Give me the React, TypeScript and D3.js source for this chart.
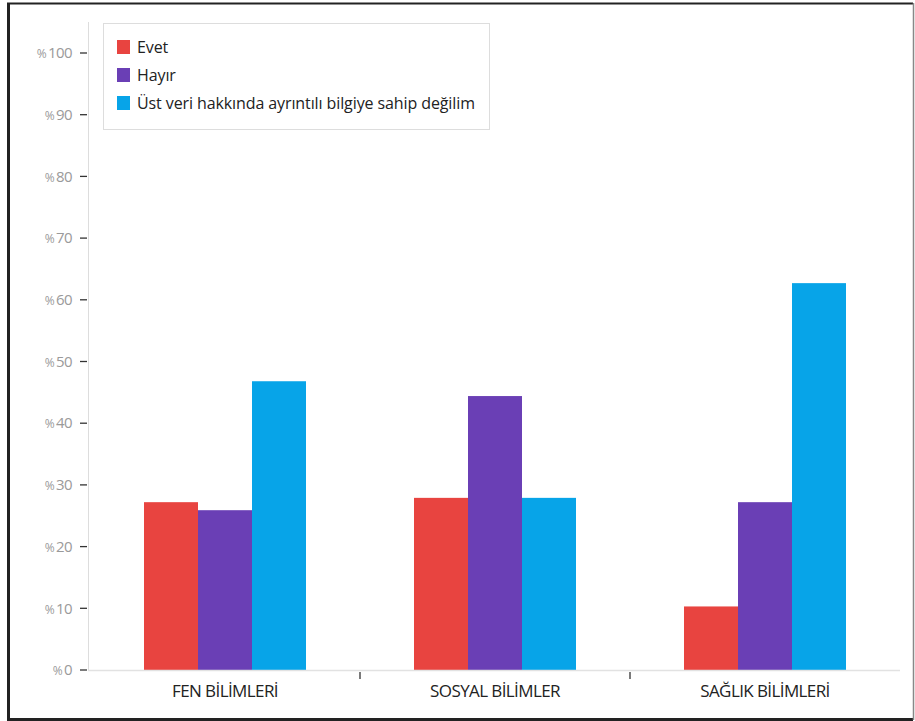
import React from "react";
import * as d3 from "d3";

const categories = ["FEN BİLİMLERİ", "SOSYAL BİLİMLER", "SAĞLIK BİLİMLERİ"];
const seriesNames = ["Evet", "Hayır", "Üst veri hakkında ayrıntılı bilgiye sahip değilim"];
const seriesColors = ["#E84440", "#6A3FB5", "#07A4E8"];
const evet = [27.2, 27.9, 10.3];
const hayir = [25.9, 44.4, 27.2];
const ustVeri = [46.8, 27.9, 62.7];
const yTicks = [0, 10, 20, 30, 40, 50, 60, 70, 80, 90, 100];

const W = 915;
const H = 721;

export default function App() {
  const seriesValues = [evet, hayir, ustVeri];
  const x0 = d3.scaleBand<string>().domain(categories).range([90, 900]).paddingInner(0).paddingOuter(0);
  const groupPad = 0.2;
  const x1 = d3
    .scaleBand<number>()
    .domain([0, 1, 2])
    .range([x0.bandwidth() * groupPad, x0.bandwidth() * (1 - groupPad)])
    .padding(0);
  const y = d3.scaleLinear().domain([0, 100]).range([670, 53]);

  return (
    <svg width={W} height={H} style={{ position: "absolute", left: 0, top: 0, background: "#fff" }}>
      {/* outer frame */}
      <line x1={8.5} y1={3} x2={8.5} y2={720} stroke="#222" strokeWidth={3} />
      <line x1={7} y1={3.5} x2={913} y2={3.5} stroke="#222" strokeWidth={2} />
      <line x1={7} y1={719.5} x2={913} y2={719.5} stroke="#222" strokeWidth={3} />
      <line x1={913.5} y1={3} x2={913.5} y2={720} stroke="#888" strokeWidth={1.5} />

      {/* y axis line */}
      <line x1={88.5} y1={22} x2={88.5} y2={670} stroke="#ddd" strokeWidth={1} />

      {/* y ticks */}
      {yTicks.map((t) => (
        <g key={t}>
          <line x1={80} x2={87} y1={y(t)} y2={y(t)} stroke="#333" strokeWidth={1.3} />
          <text
            x={72}
            y={y(t)}
            dy="0.35em"
            textAnchor="end"
            fill="#9a9a9a"
            fontSize={15}
            fontFamily="'Open Sans', sans-serif"
            letterSpacing={-0.6}
          >
            <tspan fontSize={12}>%</tspan>
            <tspan dx={2}>{t}</tspan>
          </text>
        </g>
      ))}

      {/* bars */}
      {categories.map((c, ci) => (
        <g key={c} transform={`translate(${x0(c)},0)`}>
          {seriesValues.map((vals, si) => (
            <rect
              key={si}
              x={x1(si)}
              y={y(vals[ci])}
              width={x1.bandwidth()}
              height={y(0) - y(vals[ci])}
              fill={seriesColors[si]}
            />
          ))}
        </g>
      ))}

      {/* x axis line */}
      <line x1={88} x2={900} y1={670.5} y2={670.5} stroke="#e2e2e2" strokeWidth={1.5} />

      {/* category separators */}
      {categories.slice(1).map((c) => (
        <line key={c} x1={x0(c)} x2={x0(c)} y1={672} y2={679} stroke="#333" strokeWidth={1.3} />
      ))}

      {/* category labels */}
      {categories.map((c) => (
        <text
          key={c}
          x={(x0(c) ?? 0) + x0.bandwidth() / 2}
          y={697}
          textAnchor="middle"
          fill="#222"
          fontSize={17}
          fontFamily="'Open Sans', sans-serif"
          letterSpacing={-0.6}
        >
          {c}
        </text>
      ))}

      {/* legend */}
      <rect x={103.5} y={23.5} width={386} height={106} fill="#fff" stroke="#ddd" strokeWidth={1} />
      {seriesNames.map((n, i) => (
        <g key={n} transform={`translate(117, ${40 + i * 28})`}>
          <rect x={0} y={0} width={13} height={14} fill={seriesColors[i]} />
          <text
            x={20}
            y={7}
            dy="0.35em"
            fill="#222"
            fontSize={16}
            fontFamily="'Open Sans', sans-serif"
            letterSpacing={-0.1}
          >
            {n}
          </text>
        </g>
      ))}
    </svg>
  );
}
